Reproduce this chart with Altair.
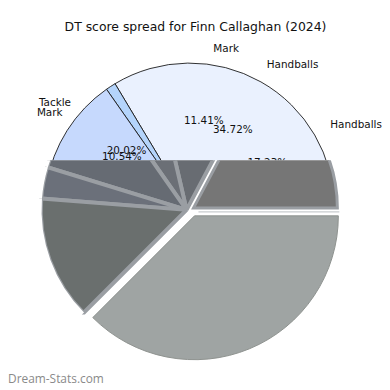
import math
import altair as alt
import pandas as pd

TITLE = "DT score spread for Finn Callaghan (2024)"
WATERMARK = "Dream-Stats.com"

# Labels of the two overlapping pies (pie 1 and pie 2)
label_text = ["Handballs", "Mark", "Tackle", "Handballs", "Mark"]
label_pct = [17.23, 11.41, 20.02, 34.72, 10.54]
label_pie = [1, 1, 1, 2, 2]

# Visible (upper) blue pie segments
blue_segments = ["Handballs", "Edge", "Mark", "Rest"]
blue_values = [33.6, 1.12, 25.28, 40.0]
blue_colors = ["#eaf1fe", "#b4d4fb", "#c6d9fd", "#c6d9fd"]

# Visible (lower) grey pie segments
grey_segments = ["G1", "G2", "G3", "G4", "G5", "G6", "G7"]
grey_values = [17.23, 11.41, 6.08, 10.54, 3.5, 13.74, 37.5]
grey_colors = ["#767676", "#686c72", "#6b6f76", "#666b73", "#6b707a", "#6a6f6e", "#9fa4a3"]


def segments(names, values, colors):
    df = pd.DataFrame({"name": names, "value": values, "color": colors})
    df["end"] = df["value"].cumsum()
    df["start"] = df["end"] - df["value"]
    return df


blue_df = segments(blue_segments, blue_values, blue_colors)
grey_df = segments(grey_segments, grey_values, grey_colors)

lab = pd.DataFrame({"text": label_text, "pct": label_pct, "pie": label_pie})
lab["end"] = lab.groupby("pie")["pct"].cumsum()
lab["mid"] = lab["end"] - lab["pct"] / 2
lab["pct_text"] = lab["pct"].map(lambda v: f"{v:.2f}%")

theta_scale = alt.Scale(domain=[0, 100], range=[2.5 * math.pi, 0.5 * math.pi])
FONT = "DejaVu Sans"

W = 374
H_TOP = 152
H_BOT = 222

# ---------- top panel ----------
BX, BY, BR = 183, 200, 146
TX, TY = 186, 200

blue_arcs = alt.Chart(blue_df).mark_arc(
    clip=True, stroke="#1a1a1a", strokeWidth=0.9
).encode(
    theta=alt.Theta("start:Q", scale=theta_scale),
    theta2="end:Q",
    color=alt.Color("color:N", scale=None),
    x=alt.value(BX), y=alt.value(BY),
    radius=alt.value(BR),
)

names_right = alt.Chart(lab).transform_filter("datum.mid < 25").mark_text(
    align="left", baseline="middle", font=FONT, fontSize=10.5, color="#111111"
).encode(
    theta=alt.Theta("mid:Q", scale=theta_scale),
    radius=alt.value(162),
    x=alt.value(TX), y=alt.value(TY),
    text="text:N",
)

names_left = alt.Chart(lab).transform_filter("datum.mid >= 25").mark_text(
    align="right", baseline="middle", font=FONT, fontSize=10.5, color="#111111"
).encode(
    theta=alt.Theta("mid:Q", scale=theta_scale),
    radius=alt.value(162),
    x=alt.value(TX), y=alt.value(TY),
    text="text:N",
)

pcts = alt.Chart(lab).mark_text(
    align="center", baseline="middle", font=FONT, fontSize=10.5, color="#111111", clip=True
).encode(
    theta=alt.Theta("mid:Q", scale=theta_scale),
    radius=alt.value(88),
    x=alt.value(TX), y=alt.value(TY),
    text="pct_text:N",
)

title = alt.Chart(pd.DataFrame({"t": [TITLE]})).mark_text(
    align="center", baseline="middle", font=FONT, fontSize=12.5, color="#111111"
).encode(x=alt.value(189), y=alt.value(18), text="t:N")

top = alt.layer(blue_arcs, names_right, names_left, pcts, title).properties(
    width=W, height=H_TOP
)

# ---------- bottom panel ----------
GX, GY, GR = 182, 50, 146
SEP = "#9a9ea3"

main_filter = "datum.name != 'G1' && datum.name != 'G7'"

grey_main = alt.Chart(grey_df).transform_filter(main_filter).mark_arc(
    clip=True, stroke=SEP, strokeWidth=4, strokeJoin="bevel"
).encode(
    theta=alt.Theta("start:Q", scale=theta_scale),
    theta2="end:Q",
    color=alt.Color("color:N", scale=None),
    x=alt.value(GX - 2), y=alt.value(GY),
    radius=alt.value(GR + 1),
)

# white ring hiding the outer half of the thick outline
white_ring = alt.Chart(grey_df).transform_filter(main_filter).mark_arc(
    clip=True, color="white"
).encode(
    theta=alt.Theta("start:Q", scale=theta_scale),
    theta2="end:Q",
    x=alt.value(GX - 2), y=alt.value(GY),
    radius=alt.value(GR + 5),
    radius2=alt.value(GR + 0.2),
)

grey_first = alt.Chart(grey_df).transform_filter("datum.name == 'G1'").mark_arc(
    clip=True, stroke=SEP, strokeWidth=3, strokeJoin="miter"
).encode(
    theta=alt.Theta("start:Q", scale=theta_scale),
    theta2="end:Q",
    color=alt.Color("color:N", scale=None),
    x=alt.value(GX + 5), y=alt.value(GY - 2),
    radius=alt.value(GR - 1),
)

sep_line = alt.Chart(pd.DataFrame({"a": [0]})).mark_rule(
    color="#c9cccf", strokeWidth=1.5
).encode(x=alt.value(GX + 10), x2=alt.value(GX + 152), y=alt.value(GY + 2))

grey_big = alt.Chart(grey_df).transform_filter("datum.name == 'G7'").mark_arc(
    clip=True, stroke="#8e928f", strokeWidth=1, strokeJoin="miter"
).encode(
    theta=alt.Theta("start:Q", scale=theta_scale),
    theta2="end:Q",
    color=alt.Color("color:N", scale=None),
    x=alt.value(GX + 6), y=alt.value(GY + 6),
    radius=alt.value(GR - 1),
)

watermark = alt.Chart(pd.DataFrame({"t": [WATERMARK]})).mark_text(
    align="left", baseline="middle", font="Open Sans", fontSize=12, color="#8a8a8a"
).encode(x=alt.value(0), y=alt.value(220), text="t:N")

bottom = alt.layer(grey_main, white_ring, grey_first, sep_line, grey_big, watermark).properties(
    width=W, height=H_BOT
)

chart = alt.vconcat(top, bottom, spacing=0, bounds="flush").properties(
    padding=0,
).configure_view(stroke=None).configure_concat(spacing=0)

chart.save("out.html", embed_options={"renderer": "svg", "actions": False})
